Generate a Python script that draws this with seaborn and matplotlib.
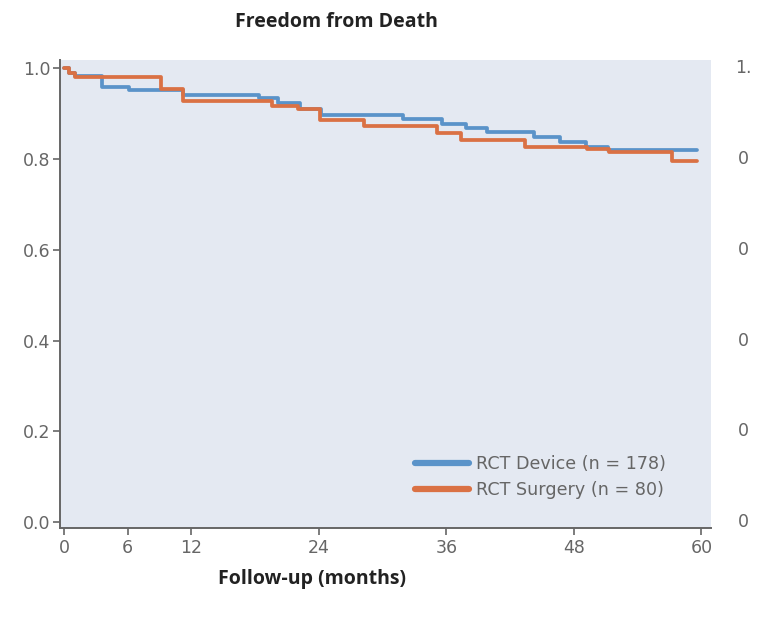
import numpy as np
import pandas as pd
import matplotlib
matplotlib.use("Agg")
import matplotlib.pyplot as plt
import seaborn as sns

# Kaplan-Meier step values (months, survival)
device_t = [0, 0.5, 1.0, 3.6, 6.1, 11.2, 18.4, 20.1, 22.2, 24.2, 31.9, 35.6, 37.8, 39.8, 44.2, 46.7, 49.1, 51.2, 59.6]
device_s = [1.0, 0.99, 0.983, 0.959, 0.952, 0.941, 0.934, 0.924, 0.911, 0.897, 0.888, 0.878, 0.868, 0.859, 0.849, 0.838, 0.827, 0.819, 0.819]

surgery_t = [0, 0.5, 1.0, 9.1, 11.2, 19.6, 22.0, 24.1, 28.2, 35.1, 37.4, 43.4, 49.2, 51.3, 57.2, 59.6]
surgery_s = [1.0, 0.99, 0.981, 0.954, 0.927, 0.917, 0.909, 0.886, 0.873, 0.857, 0.841, 0.826, 0.821, 0.815, 0.795, 0.795]

labels = ["RCT Device (n = 178)", "RCT Surgery (n = 80)"]
colors = ["#5a93c9", "#da7144"]
x_ticks = [0, 6, 12, 24, 36, 48, 60]
y_ticks = [0.0, 0.2, 0.4, 0.6, 0.8, 1.0]

df = pd.concat([
    pd.DataFrame({"month": device_t, "surv": device_s, "arm": labels[0]}),
    pd.DataFrame({"month": surgery_t, "surv": surgery_s, "arm": labels[1]}),
])

sns.set_style("ticks")
plt.rcParams['font.family'] = ['DejaVu Sans']

fig = plt.figure(figsize=(7.6, 6.21), dpi=100)
ax = fig.add_axes([0.0789, 0.1498, 0.8566, 0.7536])
ax.set_facecolor("#e4e9f2")

sns.lineplot(data=df, x="month", y="surv", hue="arm", palette=colors,
             drawstyle="steps-post", linewidth=2.7, ax=ax, estimator=None, sort=False)

ax.set_xlim(-0.38, 60.9)
ax.set_ylim(-0.013, 1.018)
ax.set_xticks(x_ticks)
ax.set_yticks(y_ticks)
ax.set_yticklabels([f"{v:.1f}" for v in y_ticks])
ax.tick_params(colors="#666666", labelsize=12.5, length=5, width=1.2)
ax.tick_params(axis="x", pad=3)
ax.tick_params(axis="y", pad=2)
for side in ["top", "right"]:
    ax.spines[side].set_visible(False)
for side in ["left", "bottom"]:
    ax.spines[side].set_color("#666666")
    ax.spines[side].set_linewidth(1.4)

ax.set_xlabel("")
ax.set_ylabel("")

leg = ax.legend(loc="lower right", bbox_to_anchor=(0.955, 0.028), frameon=False,
                fontsize=12.6, handlelength=3.1, handletextpad=0.4, labelspacing=0.45)
for line in leg.get_lines():
    line.set_linewidth(4.5)
for txt in leg.get_texts():
    txt.set_color("#666666")

fig.text(0.443, 0.965, "Freedom from Death", ha="center", va="center",
         fontsize=14, fontweight="bold", family=["Open Sans", "DejaVu Sans"], color="#222222")
fig.text(0.411, 0.067, "Follow-up (months)", ha="center", va="center",
         fontsize=14, fontweight="bold", family=["Open Sans", "DejaVu Sans"], color="#222222")

# cut-off tick labels from the neighbouring panel
right_labels = ["1.", "0", "0", "0", "0", "0"]
right_y = [1.0, 0.8, 0.6, 0.4, 0.2, 0.0]
for lab, yv in zip(right_labels, right_y):
    ax.text(1.05, ax.transLimits.transform((0, yv))[1], lab, transform=ax.transAxes,
            ha="center", va="center", fontsize=12.5, color="#666666")

fig.savefig("out.png", dpi=100)
